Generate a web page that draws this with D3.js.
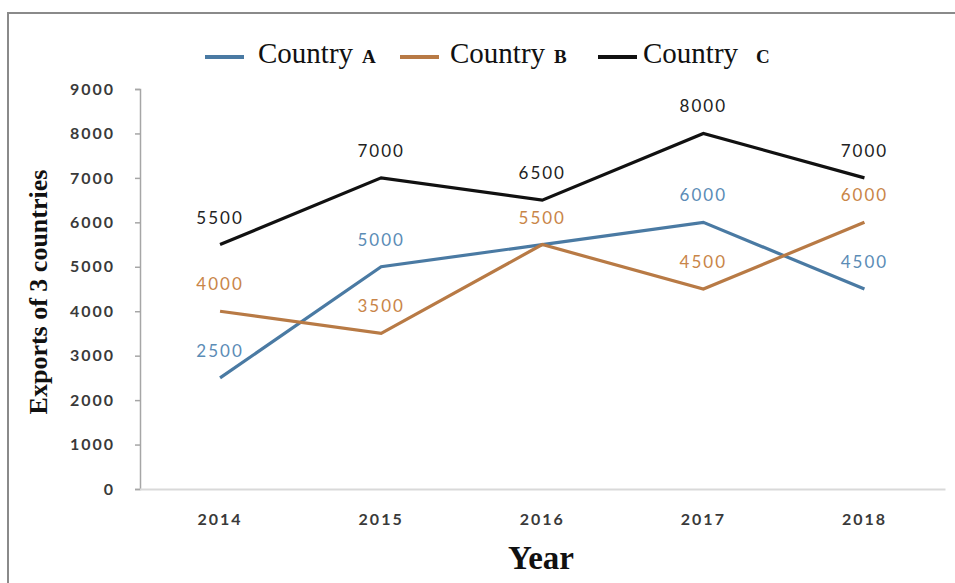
<!DOCTYPE html>
<html>
<head>
<meta charset="utf-8">
<script src="https://cdn.jsdelivr.net/npm/d3@7"></script>
<style>
  html, body { margin: 0; padding: 0; background: #fff; }
  svg { display: block; }
</style>
</head>
<body>
<svg id="chart" width="955" height="583"></svg>
<script>
const years = ["2014", "2015", "2016", "2017", "2018"];
const countryA = [2500, 5000, 5500, 6000, 4500];
const countryB = [4000, 3500, 5500, 4500, 6000];
const countryC = [5500, 7000, 6500, 8000, 7000];
const seriesNames = ["Country", "Country", "Country"];
const seriesLetters = ["A", "B", "C"];
const yTicks = [0, 1000, 2000, 3000, 4000, 5000, 6000, 7000, 8000, 9000];
const hiddenLabels = [["A", "2016"]];

const colors = { A: "#4a7aa3", B: "#b87a45", C: "#111111" };
const labelColors = { A: "#5b8cb6", B: "#c98548", C: "#222222" };

const series = [
  { key: "A", values: countryA },
  { key: "B", values: countryB },
  { key: "C", values: countryC }
];

const svg = d3.select("#chart");

// outer frame
svg.append("rect")
  .attr("x", 8).attr("y", 13)
  .attr("width", 960).attr("height", 600)
  .attr("fill", "none").attr("stroke", "#8a8a8a").attr("stroke-width", 2);

const x = d3.scaleBand().domain(years).range([139.5, 945]);
const y = d3.scaleLinear().domain([0, 9000]).range([489, 89]);
const cx = d => x(d) + x.bandwidth() / 2;

// y axis
const yAxis = svg.append("g")
  .attr("transform", "translate(140,0)")
  .call(d3.axisLeft(y).tickValues(yTicks).tickFormat(d3.format("d")).tickSize(5).tickPadding(20));
yAxis.select(".domain").attr("stroke", "#a6a6a6").attr("stroke-width", 1.5);
yAxis.selectAll(".tick line").attr("stroke", "#a6a6a6").attr("stroke-width", 1.5);
yAxis.selectAll(".tick text")
  .attr("fill", "#3a3a3a")
  .style("font-family", "Lato, 'Open Sans', sans-serif")
  .style("font-weight", "bold")
  .style("font-size", "16px")
  .style("letter-spacing", "2px");

// x axis
const xAxis = svg.append("g")
  .attr("transform", "translate(0,489)")
  .call(d3.axisBottom(x).tickSize(0).tickPadding(25));
xAxis.select(".domain").attr("stroke", "#d9d9d9").attr("stroke-width", 2);
xAxis.selectAll(".tick text")
  .attr("fill", "#3a3a3a")
  .style("font-family", "Lato, 'Open Sans', sans-serif")
  .style("font-weight", "bold")
  .style("font-size", "16px")
  .style("letter-spacing", "2px");

// lines
const line = d3.line()
  .x((d, i) => cx(years[i]))
  .y(d => y(d));

svg.append("g").selectAll("path")
  .data(series)
  .join("path")
  .attr("d", s => line(s.values))
  .attr("fill", "none")
  .attr("stroke", s => colors[s.key])
  .attr("stroke-width", 3.2)
  .attr("stroke-linejoin", "miter");

// data labels
const labelData = [];
series.forEach(s => {
  s.values.forEach((v, i) => {
    const hidden = hiddenLabels.some(h => h[0] === s.key && h[1] === years[i]);
    if (!hidden) labelData.push({ key: s.key, year: years[i], value: v });
  });
});
svg.append("g").selectAll("text")
  .data(labelData)
  .join("text")
  .attr("x", d => cx(d.year))
  .attr("y", d => y(d.value) - 21)
  .attr("text-anchor", "middle")
  .attr("fill", d => labelColors[d.key])
  .style("font-family", "Lato, 'Open Sans', sans-serif")
  .style("font-size", "17px")
  .style("letter-spacing", "2px")
  .text(d => d.value);

// legend
const legendItems = [
  { key: "A", lx: 205, tx: 258 },
  { key: "B", lx: 400, tx: 450 },
  { key: "C", lx: 598, tx: 643 }
];
const lg = svg.append("g");
legendItems.forEach((it, i) => {
  lg.append("line")
    .attr("x1", it.lx).attr("x2", it.lx + 39)
    .attr("y1", 57).attr("y2", 57)
    .attr("stroke", colors[it.key]).attr("stroke-width", 4);
  const t = lg.append("text")
    .attr("x", it.tx).attr("y", 63)
    .attr("fill", "#111")
    .style("font-family", "'Liberation Serif', 'Times New Roman', serif");
  t.append("tspan")
    .style("font-size", "29px")
    .text(seriesNames[i]);
  t.append("tspan")
    .attr("dx", it.key === "C" ? 18 : 9)
    .style("font-size", "19px")
    .style("font-weight", "bold")
    .text(seriesLetters[i]);
});

// axis titles
svg.append("text")
  .attr("transform", "translate(47,292) rotate(-90)")
  .attr("text-anchor", "middle")
  .attr("fill", "#111")
  .style("font-family", "'Liberation Serif', 'Times New Roman', serif")
  .style("font-weight", "bold")
  .style("font-size", "26px")
  .text("Exports of 3 countries");

svg.append("text")
  .attr("x", 541).attr("y", 569)
  .attr("text-anchor", "middle")
  .attr("fill", "#111")
  .style("font-family", "'Liberation Serif', 'Times New Roman', serif")
  .style("font-weight", "bold")
  .style("font-size", "33px")
  .text("Year");
</script>
</body>
</html>
